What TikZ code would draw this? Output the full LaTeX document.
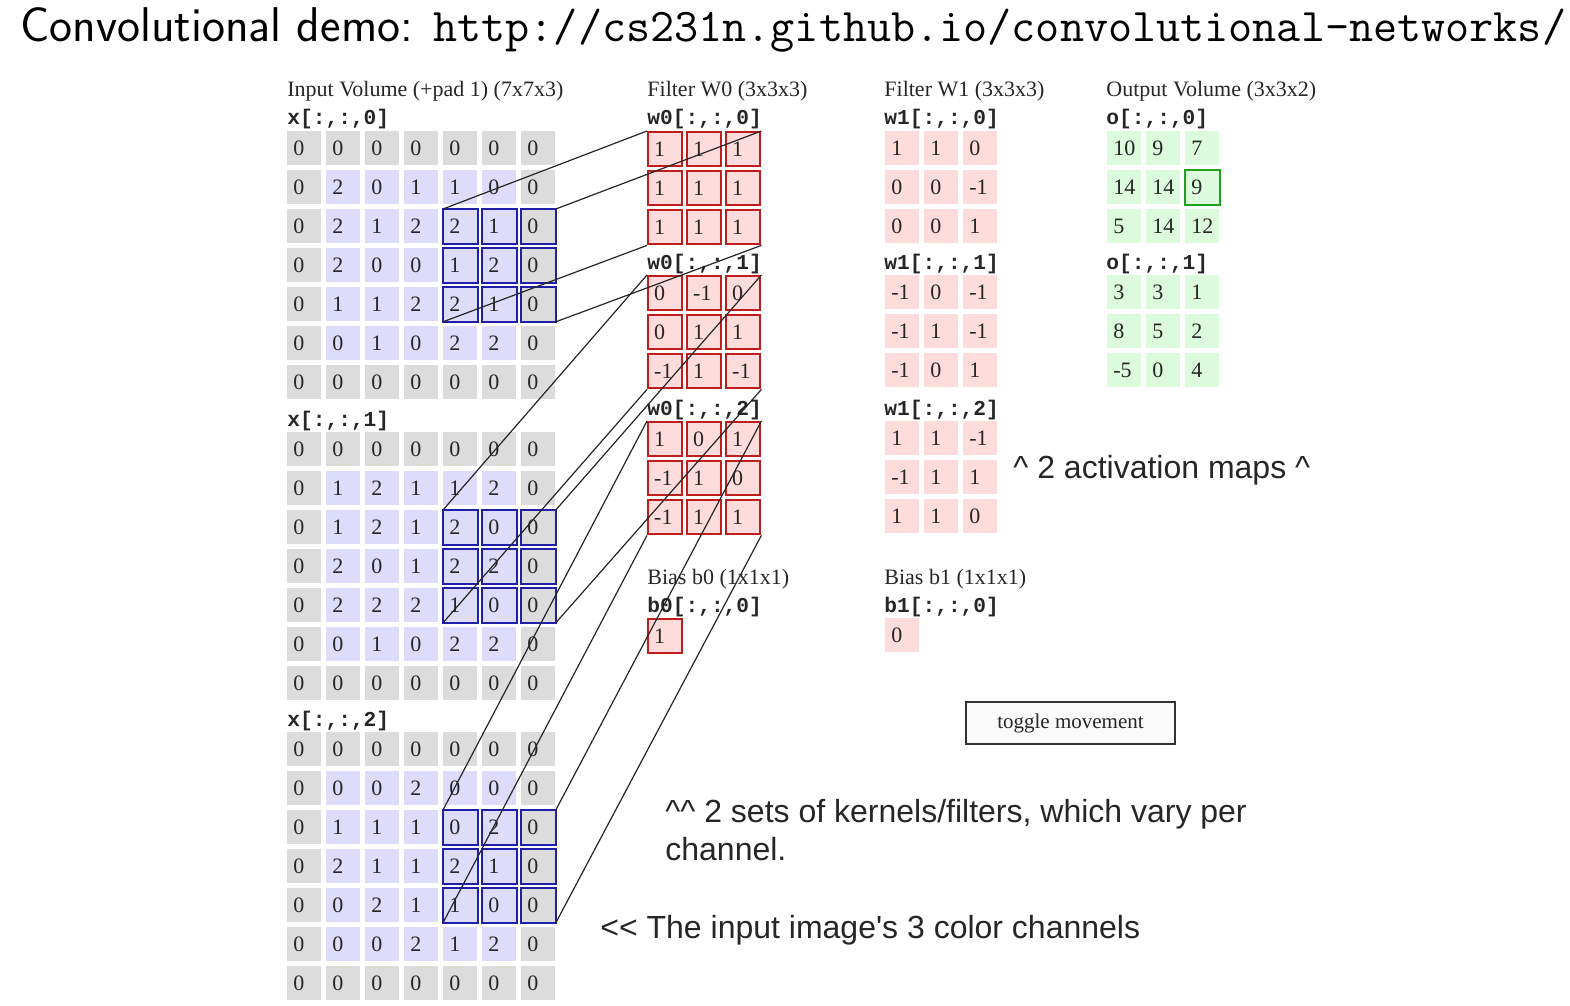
\documentclass[tikz,border=0pt]{standalone}
\usepackage{fontspec}
\setmainfont{Liberation Serif}
\newfontfamily\codefont{Liberation Mono}
\newfontfamily\notefont{Liberation Sans}
\usetikzlibrary{positioning}
\definecolor{padgray}{HTML}{DCDCDC}
\definecolor{inlav}{HTML}{DDDDFB}
\definecolor{winblue}{HTML}{1F1FAA}
\definecolor{filtpink}{HTML}{FFDCDC}
\definecolor{filtred}{HTML}{BF1E1E}
\definecolor{outgreen}{HTML}{DCFADC}
\definecolor{hlgreen}{HTML}{22A022}
% one 7x7 input channel: #1 channel, #2 top, #3 rows
\newcommand{\chgrid}[3]{%
  \foreach \ri/\vals in {#3} {
    \foreach \v [count=\ci from 0] in \vals {
      \pgfmathtruncatemacro\edge{(\ri==0)||(\ri==6)||(\ci==0)||(\ci==6)}
      \ifnum\edge=1 \def\cellfill{padgray}\else\def\cellfill{inlav}\fi
      \node[cell,fill=\cellfill] (x#1-\ri-\ci) at ({287+39*\ci},{#2+39*\ri}) {\v};
    }
  }}
% one 3x3 kernel: #1 name, #2 left, #3 top, #4 style, #5 values
\newcommand{\kgrid}[5]{%
  \foreach \v [count=\i from 0] in {#5} {
    \pgfmathtruncatemacro\ri{int(\i/3)}
    \pgfmathtruncatemacro\ci{mod(\i,3)}
    \node[#4] (#1-\ri-\ci) at ({#2+39*\ci},{#3+39*\ri}) {\v};
  }}

\begin{document}
\begin{tikzpicture}[x=0.5pt,y=-0.5pt,
  cell/.style={anchor=north west,minimum width=17pt,minimum height=17pt,inner xsep=3pt,inner ysep=0pt,
    text width=11pt,align=left,text=black!85,font=\fontsize{11}{13}\selectfont},
  wcell/.style={cell,fill=filtpink,draw=filtred,line width=1.2pt},
  vcell/.style={cell,fill=filtpink},
  ocell/.style={cell,fill=outgreen},
  win/.style={draw=winblue,line width=1pt},
  hdr/.style={anchor=base west,inner sep=0pt,text=black!85,font=\fontsize{11}{13}\selectfont},
  code/.style={anchor=base west,inner sep=0pt,text=black!85,font=\codefont\bfseries\fontsize{10.6}{12}\selectfont},
  note/.style={anchor=base west,inner sep=0pt,text=black!85,font=\notefont\fontsize{16}{19}\selectfont},
  link/.style={black!85,line width=0.6pt}]
\useasboundingbox (0,0) rectangle (1570,1006);
% ---- title ----
\node[anchor=base west,inner sep=0pt,font=\sffamily\fontsize{24.4}{28}\selectfont] (title) at (20,42)
  {Convolutional demo: {\ttfamily\fontsize{23.4}{28}\selectfont http://cs231n.github.io/convolutional-networks/}};
% ---- input volume ----
\node[hdr] (inhdr) at (287,97) {Input Volume (+pad 1) (7x7x3)};
\node[code] (xl0) at (287,125) {x[:,:,0]};
\node[code] (xl1) at (287,426) {x[:,:,1]};
\node[code] (xl2) at (287,726) {x[:,:,2]};
\chgrid{0}{131}{0/{0,0,0,0,0,0,0},1/{0,2,0,1,1,0,0},2/{0,2,1,2,2,1,0},3/{0,2,0,0,1,2,0},4/{0,1,1,2,2,1,0},5/{0,0,1,0,2,2,0},6/{0,0,0,0,0,0,0}}
\chgrid{1}{432}{0/{0,0,0,0,0,0,0},1/{0,1,2,1,1,2,0},2/{0,1,2,1,2,0,0},3/{0,2,0,1,2,2,0},4/{0,2,2,2,1,0,0},5/{0,0,1,0,2,2,0},6/{0,0,0,0,0,0,0}}
\chgrid{2}{732}{0/{0,0,0,0,0,0,0},1/{0,0,0,2,0,0,0},2/{0,1,1,1,0,2,0},3/{0,2,1,1,2,1,0},4/{0,0,2,1,1,0,0},5/{0,0,0,2,1,2,0},6/{0,0,0,0,0,0,0}}
\foreach \k in {0,1,2}
  \foreach \ri in {2,3,4}
    \foreach \ci in {4,5,6}
      \draw[win] (x\k-\ri-\ci.north west) rectangle (x\k-\ri-\ci.south east);
% ---- filter W0 ----
\node[hdr] (w0hdr) at (647,97) {Filter W0 (3x3x3)};
\node[code] (w0l0) at (647,125) {w0[:,:,0]};
\node[code] (w0l1) at (647,269) {w0[:,:,1]};
\node[code] (w0l2) at (647,415) {w0[:,:,2]};
\kgrid{w0-0}{647}{131}{wcell}{1,1,1,1,1,1,1,1,1}
\kgrid{w0-1}{647}{275}{wcell}{0,-1,0,0,1,1,-1,1,-1}
\kgrid{w0-2}{647}{421}{wcell}{1,0,1,-1,1,0,-1,1,1}
\node[hdr] (b0hdr) at (647,584) {Bias b0 (1x1x1)};
\node[code] (b0l) at (647,612) {b0[:,:,0]};
\node[wcell] (b0) at (647,618) {1};
% ---- filter W1 ----
\node[hdr] (w1hdr) at (884,97) {Filter W1 (3x3x3)};
\node[code] (w1l0) at (884,125) {w1[:,:,0]};
\node[code] (w1l1) at (884,269) {w1[:,:,1]};
\node[code] (w1l2) at (884,415) {w1[:,:,2]};
\kgrid{w1-0}{885}{131}{vcell}{1,1,0,0,0,-1,0,0,1}
\kgrid{w1-1}{885}{275}{vcell}{-1,0,-1,-1,1,-1,-1,0,1}
\kgrid{w1-2}{885}{421}{vcell}{1,1,-1,-1,1,1,1,1,0}
\node[hdr] (b1hdr) at (884,584) {Bias b1 (1x1x1)};
\node[code] (b1l) at (884,612) {b1[:,:,0]};
\node[vcell] (b1) at (885,618) {0};
% ---- output volume ----
\node[hdr] (ohdr) at (1106,97) {Output Volume (3x3x2)};
\node[code] (ol0) at (1106,125) {o[:,:,0]};
\node[code] (ol1) at (1106,269) {o[:,:,1]};
\kgrid{o-0}{1107}{131}{ocell}{10,9,7,14,14,9,5,14,12}
\kgrid{o-1}{1107}{275}{ocell}{3,3,1,8,5,2,-5,0,4}
\draw[draw=hlgreen,line width=1pt] (o-0-1-2.north west) rectangle (o-0-1-2.south east);
% ---- window to kernel links ----
\foreach \k in {0,1,2} {
  \draw[link] (x\k-2-4.north west) -- (w0-\k-0-0.north west);
  \draw[link] (x\k-2-6.north east) -- (w0-\k-0-2.north east);
  \draw[link] (x\k-4-4.south west) -- (w0-\k-2-0.south west);
  \draw[link] (x\k-4-6.south east) -- (w0-\k-2-2.south east);
}
% ---- button and notes ----
\node[draw=black!80,line width=1pt,fill=black!2,minimum width=104.5pt,minimum height=21pt,
  inner sep=0pt,text=black!85,font=\fontsize{10.5}{12}\selectfont] (toggle) at (1070.5,723) {toggle movement};
\node[note] (maps) at (1013,478) {\textasciicircum\ 2 activation maps \textasciicircum};
\node[note] (sets) at (665,822) {\textasciicircum\textasciicircum\ 2 sets of kernels/filters, which vary per};
\node[note] (sets2) at (665,860) {channel.};
\node[note] (chans) at (600,938) {<{}< The input image\textquotesingle s 3 color channels};
\end{tikzpicture}
\end{document}
